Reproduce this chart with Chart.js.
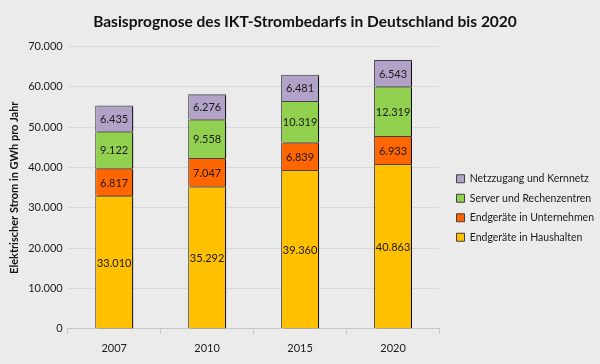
<!DOCTYPE html>
<html>
<head>
<meta charset="utf-8">
<script src="https://cdn.jsdelivr.net/npm/chart.js@4.4.1/dist/chart.umd.min.js"></script>
<style>
  html, body { margin: 0; padding: 0; background: #ebebeb; }
  #wrap { width: 600px; height: 364px; position: relative; background: #ebebeb; }
</style>
</head>
<body>
<div id="wrap"><canvas id="ictChart"></canvas></div>
<script>
// ---------------- DATA ----------------
const years = ['2007', '2010', '2015', '2020'];
const haushalte = [33010, 35292, 39360, 40863];   // Endgeräte in Haushalten
const unternehmen = [6817, 7047, 6839, 6933];     // Endgeräte in Unternehmen
const rechenzentren = [9122, 9558, 10319, 12319]; // Server und Rechenzentren
const netz = [6435, 6276, 6481, 6543];            // Netzzugang und Kernnetz

const FONT = 'Lato, "Open Sans", sans-serif';

// german thousands separator
function fmt(v) {
    return String(v).replace(/\B(?=(\d{3})+(?!\d))/g, '.');
}

// dark shadow on the right side of the bars, like the excel original
const barShadow = {
    id: 'barShadow',
    beforeDatasetsDraw(chart) {
        const ctx = chart.ctx;
        ctx.save();
        ctx.shadowColor = 'rgba(0,0,0,0.85)';
        ctx.shadowOffsetX = 2;
        ctx.shadowOffsetY = 1;
        ctx.shadowBlur = 0;
    },
    afterDatasetsDraw(chart) {
        chart.ctx.restore();
    }
};

// value labels in the middle of every segment
const segmentLabels = {
    id: 'segmentLabels',
    afterDatasetsDraw(chart) {
        const ctx = chart.ctx;
        ctx.save();
        ctx.font = '11px ' + FONT;
        ctx.fillStyle = '#1a1a1a';
        ctx.textAlign = 'center';
        ctx.textBaseline = 'middle';
        chart.data.datasets.forEach((ds, i) => {
            chart.getDatasetMeta(i).data.forEach((bar, j) => {
                ctx.fillText(fmt(ds.data[j]), bar.x, (bar.y + bar.base) / 2 + 1);
            });
        });
        ctx.restore();
    }
};

// nudge legend and title to the right (legend gets a gap after the plot,
// title ends up centred on the whole picture)
const boxNudge = {
    id: 'boxNudge',
    afterLayout(chart) {
        if (chart.legend) {
            chart.legend.left += 8;
            chart.legend.right = chart.width; // legend clips to its box
        }
        if (chart.titleBlock) {
            chart.titleBlock.left += 10;
            chart.titleBlock.right += 10;
        }
    }
};

const ctx = document.getElementById('ictChart');

new Chart(ctx, {
    type: 'bar',
    data: {
        labels: years,
        datasets: [
            { label: 'Endgeräte in Haushalten', data: haushalte, backgroundColor: '#ffc000' },
            { label: 'Endgeräte in Unternehmen', data: unternehmen, backgroundColor: '#ff6600' },
            { label: 'Server und Rechenzentren', data: rechenzentren, backgroundColor: '#92d050' },
            { label: 'Netzzugang und Kernnetz', data: netz, backgroundColor: '#b3a2c7' }
        ].map(d => Object.assign(d, {
            borderColor: '#404040',
            borderWidth: 1,
            categoryPercentage: 0.8,
            barPercentage: 0.51
        }))
    },
    options: {
        responsive: true,
        maintainAspectRatio: false,
        animation: false,
        layout: { padding: { left: 6, right: 16, top: 0, bottom: 1 } },
        plugins: {
            title: {
                display: true,
                text: 'Basisprognose des IKT-Strombedarfs in Deutschland bis 2020',
                color: '#111',
                font: { family: FONT, size: 15.5, weight: 'bold' },
                padding: { top: 13, bottom: 15 }
            },
            legend: {
                position: 'right',
                reverse: true,
                // empty legend title only pushes the entries down
                title: { display: true, text: '', font: { size: 10 }, padding: { top: 21, bottom: 20 } },
                labels: {
                    boxWidth: 8,
                    boxHeight: 8,
                    padding: 9,
                    color: '#1a1a1a',
                    font: { family: FONT, size: 10.5 }
                }
            },
            tooltip: { enabled: false }
        },
        scales: {
            x: {
                stacked: true,
                grid: { drawOnChartArea: false, tickLength: 5, color: '#c8c8c8' },
                border: { color: '#c8c8c8' },
                ticks: { padding: 8, color: '#1a1a1a', font: { family: FONT, size: 11 } }
            },
            y: {
                stacked: true,
                min: 0,
                max: 70000,
                grid: { color: '#d9d9d9', drawTicks: false },
                border: { display: false },
                ticks: {
                    stepSize: 10000,
                    padding: 5,
                    color: '#1a1a1a',
                    font: { family: FONT, size: 11 },
                    callback: v => fmt(v)
                },
                title: {
                    display: true,
                    text: 'Elektrischer Strom in GWh pro Jahr',
                    color: '#111',
                    font: { family: FONT, size: 11, weight: 'bold' },
                    padding: { top: 2, bottom: 2 }
                }
            }
        }
    },
    plugins: [barShadow, segmentLabels, boxNudge]
});
</script>
</body>
</html>
